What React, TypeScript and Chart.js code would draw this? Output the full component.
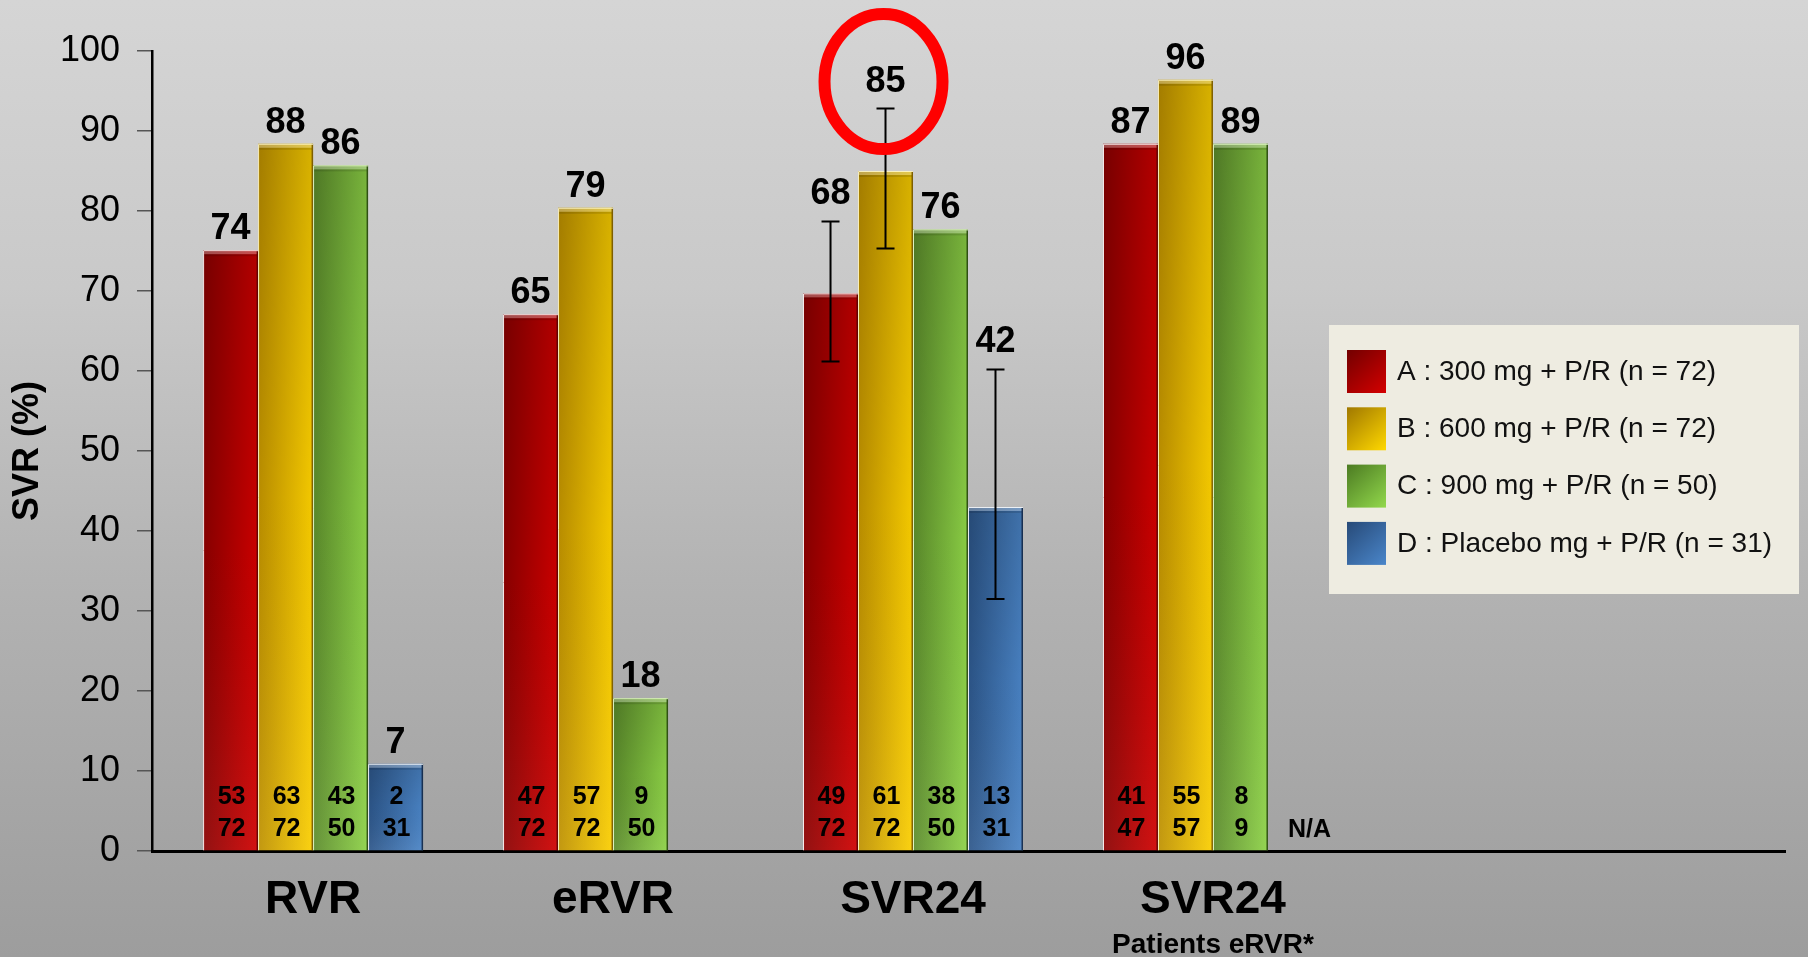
import React, { useEffect, useRef } from 'react';
import { Chart, registerables } from 'chart.js';

Chart.register(...registerables);

// ---------- DATA ----------
const categories = ['RVR', 'eRVR', 'SVR24', 'SVR24'];
const categorySubtitles = ['', '', '', 'Patients eRVR*'];
const seriesNames = [
  'A : 300 mg + P/R (n = 72)',
  'B : 600 mg + P/R (n = 72)',
  'C : 900 mg + P/R (n = 50)',
  'D : Placebo mg + P/R (n = 31)',
];

// bar heights as drawn on the slide (%)
const barsA: (number | null)[] = [75.1, 67.1, 69.7, 88.4];
const barsB: (number | null)[] = [88.4, 80.4, 85.0, 96.4];
const barsC: (number | null)[] = [85.7, 19.1, 77.7, 88.4];
const barsD: (number | null)[] = [10.9, null, 43.0, null];

// percentages printed above the bars
const printedA = [74, 65, 68, 87];
const printedB = [88, 79, 85, 96];
const printedC = [86, 18, 76, 89];
const printedD = [7, null, 42, null];

// responders / patients printed inside the bars
const respondersA = [53, 47, 49, 41];
const patientsA = [72, 72, 72, 47];
const respondersB = [63, 57, 61, 55];
const patientsB = [72, 72, 72, 57];
const respondersC = [43, 9, 38, 8];
const patientsC = [50, 50, 50, 9];
const respondersD = [2, null, 13, null];
const patientsD = [31, null, 31, null];
const notAvailableD = ['', '', '', 'N/A'];

// error bars [low, high] (%)
const errorsA = [null, null, [61.2, 78.7], null];
const errorsB = [null, null, [75.3, 92.8], null];
const errorsC = [null, null, null, null];
const errorsD = [null, null, [31.5, 60.2], null];

// highlighted value (red ring)
const highlight = { series: 1, index: 2 };

// ---------- STYLE ----------
const FONT = '"Liberation Sans", Arial, Helvetica, sans-serif';
const palette = [
  { dark: '#8a0000', light: '#d00000', sw0: '#720000', sw1: '#d40000', hi: 'rgba(255,255,255,0.92)', lo: 'rgba(70,0,0,0.75)' },
  { dark: '#bd9000', light: '#fbcf00', sw0: '#a07800', sw1: '#ffd800', hi: 'rgba(255,250,210,0.9)', lo: 'rgba(110,80,0,0.85)' },
  { dark: '#5b8b2b', light: '#8dd246', sw0: '#4c7b22', sw1: '#92d84c', hi: 'rgba(235,255,210,0.9)', lo: 'rgba(40,70,15,0.9)' },
  { dark: '#2c5588', light: '#4a84c6', sw0: '#274a78', sw1: '#4a86ca', hi: 'rgba(255,255,255,0.9)', lo: 'rgba(20,40,70,0.9)' },
];

const bars = [barsA, barsB, barsC, barsD];
const printed = [printedA, printedB, printedC, printedD];
const responders = [respondersA, respondersB, respondersC, respondersD];
const patients = [patientsA, patientsB, patientsC, patientsD];
const notAvailable = [['', '', '', ''], ['', '', '', ''], ['', '', '', ''], notAvailableD];
const errors: any[] = [errorsA, errorsB, errorsC, errorsD];

const barPaint = {
  id: 'barPaint',
  beforeDatasetsDraw(chart: any) {
    const ctx = chart.ctx;
    chart.data.datasets.forEach((_ds: any, i: number) => {
      const meta = chart.getDatasetMeta(i);
      meta.data.forEach((el: any) => {
        if (!isFinite(el.x) || !isFinite(el.width)) return;
        const g = ctx.createLinearGradient(el.x - el.width / 2, 0, el.x + el.width / 2, 0);
        g.addColorStop(0, palette[i].dark);
        g.addColorStop(1, palette[i].light);
        el.options = Object.assign({}, el.options, { backgroundColor: g });
      });
    });
  },
  afterDatasetsDraw(chart: any) {
    const ctx = chart.ctx;
    const yScale = chart.scales.y;
    const base = yScale.getPixelForValue(0);
    ctx.save();
    // shading, bevel and edges
    chart.data.datasets.forEach((_ds: any, i: number) => {
      const meta = chart.getDatasetMeta(i);
      meta.data.forEach((el: any, j: number) => {
        if (bars[i][j] == null) return;
        const left = el.x - el.width / 2;
        const right = el.x + el.width / 2;
        const top = el.y;
        const bottom = el.base;
        const vg = ctx.createLinearGradient(0, top, 0, bottom);
        vg.addColorStop(0, 'rgba(0,0,0,0.14)');
        vg.addColorStop(0.5, 'rgba(0,0,0,0.03)');
        vg.addColorStop(1, 'rgba(255,255,255,0.07)');
        ctx.fillStyle = vg;
        ctx.fillRect(left, top, el.width, bottom - top);
        ctx.fillStyle = 'rgba(255,255,255,0.3)';
        ctx.fillRect(left + 1, top + 1, el.width - 2, 3);
        ctx.fillStyle = 'rgba(0,0,0,0.12)';
        ctx.fillRect(left + 1, top + 4, el.width - 2, 2);
        ctx.lineWidth = 1.5;
        ctx.strokeStyle = palette[i].lo;
        ctx.beginPath();
        ctx.moveTo(right - 0.75, top);
        ctx.lineTo(right - 0.75, bottom);
        ctx.stroke();
        ctx.lineWidth = 1;
        ctx.strokeStyle = palette[i].hi;
        ctx.beginPath();
        ctx.moveTo(left + 0.5, bottom);
        ctx.lineTo(left + 0.5, top + 0.5);
        ctx.lineTo(right, top + 0.5);
        ctx.stroke();
      });
    });
    // error bars, labels
    ctx.textAlign = 'center';
    ctx.textBaseline = 'alphabetic';
    chart.data.datasets.forEach((_ds: any, i: number) => {
      const meta = chart.getDatasetMeta(i);
      meta.data.forEach((el: any, j: number) => {
        ctx.fillStyle = '#000';
        if (bars[i][j] == null) {
          if (notAvailable[i][j]) {
            ctx.font = `bold 25px ${FONT}`;
            ctx.fillText(notAvailable[i][j], el.x + 14, base - 14);
          }
          return;
        }
        let top = el.y;
        let gap = 11;
        const e = errors[i][j];
        if (e) {
          const yl = yScale.getPixelForValue(e[0]);
          const yh = yScale.getPixelForValue(e[1]);
          ctx.strokeStyle = '#000';
          ctx.lineWidth = 2;
          ctx.beginPath();
          ctx.moveTo(el.x, yl);
          ctx.lineTo(el.x, yh);
          ctx.moveTo(el.x - 9, yl);
          ctx.lineTo(el.x + 9, yl);
          ctx.moveTo(el.x - 9, yh);
          ctx.lineTo(el.x + 9, yh);
          ctx.stroke();
          top = Math.min(top, yh);
          gap = 17;
        }
        const labelY = top - gap;
        ctx.font = `bold 36px ${FONT}`;
        ctx.fillText(String(printed[i][j]), el.x, labelY);
        if (highlight.series === i && highlight.index === j) {
          ctx.strokeStyle = '#ff0000';
          ctx.lineWidth = 12;
          ctx.beginPath();
          ctx.ellipse(el.x - 2, labelY - 10, 59, 67.5, 0, 0, Math.PI * 2);
          ctx.stroke();
        }
        ctx.font = `bold 25px ${FONT}`;
        ctx.fillText(String(responders[i][j]), el.x + 1, base - 47);
        ctx.fillText(String(patients[i][j]), el.x + 1, base - 15);
      });
    });
    ctx.restore();
  },
};

const extras = {
  id: 'extras',
  afterDraw(chart: any) {
    const ctx = chart.ctx;
    const xScale = chart.scales.x;
    ctx.save();
    // category subtitles
    ctx.fillStyle = '#000';
    ctx.textAlign = 'center';
    ctx.textBaseline = 'alphabetic';
    ctx.font = `bold 28px ${FONT}`;
    categorySubtitles.forEach((s, j) => {
      if (!s) return;
      ctx.fillText(s, xScale.getPixelForValue(j), xScale.bottom - 4);
    });
    // legend box
    const lx = chart.width - 479;
    const ly = 325;
    ctx.fillStyle = '#eeece1';
    ctx.fillRect(lx, ly, 470, 269);
    ctx.textAlign = 'left';
    ctx.textBaseline = 'middle';
    ctx.font = `28px ${FONT}`;
    chart.data.datasets.forEach((ds: any, i: number) => {
      const sx = lx + 18;
      const sy = ly + 25 + i * 57.3;
      const g = ctx.createLinearGradient(sx, sy, sx + 39, sy + 43);
      g.addColorStop(0, palette[i].sw0);
      g.addColorStop(1, palette[i].sw1);
      ctx.fillStyle = g;
      ctx.fillRect(sx, sy, 39, 43);
      ctx.fillStyle = '#111';
      ctx.fillText(ds.label, sx + 50, sy + 22);
    });
    ctx.restore();
  },
};

export default function App() {
  const ref = useRef<HTMLCanvasElement | null>(null);
  useEffect(() => {
    if (!ref.current) return;
    const chart = new Chart(ref.current, {
      type: 'bar',
      data: {
        labels: categories.map((_c, i) => i),
        datasets: bars.map((b, i) => ({
          label: seriesNames[i],
          data: b,
          backgroundColor: palette[i].light,
          borderWidth: 0,
          categoryPercentage: 0.7333,
          barPercentage: 1,
        })),
      },
      options: {
        responsive: false,
        maintainAspectRatio: false,
        animation: false,
        devicePixelRatio: 1,
        events: [],
        layout: { padding: { left: 0, right: 23, top: 51, bottom: 0 } },
        plugins: { legend: { display: false }, tooltip: { enabled: false } },
        scales: {
          x: {
            type: 'linear',
            min: -0.537,
            max: 4.907,
            offset: false,
            grid: { display: false, offset: false, drawTicks: false },
            border: { display: true, color: '#000', width: 3 },
            ticks: {
              stepSize: 1,
              includeBounds: false,
              autoSkip: false,
              maxRotation: 0,
              padding: 22,
              color: '#000',
              font: { family: FONT, size: 46, weight: 'bold' },
              callback: (v: any) => {
                const n = Math.round(Number(v));
                return Math.abs(n - Number(v)) < 1e-6 && n >= 0 && n < categories.length ? categories[n] : '';
              },
            },
            afterFit: (scale: any) => {
              scale.height = 106;
            },
          },
          y: {
            min: 0,
            max: 100,
            grid: { drawOnChartArea: false, drawTicks: true, tickLength: 15, color: '#555', lineWidth: 1.5 },
            border: { display: true, color: '#000', width: 2.5 },
            ticks: {
              stepSize: 10,
              padding: 17,
              color: '#000',
              font: { family: FONT, size: 36 },
            },
            title: {
              display: true,
              text: 'SVR (%)',
              color: '#000',
              font: { family: FONT, size: 36, weight: 'bold' },
              padding: { top: 6, bottom: 0 },
            },
            afterFit: (scale: any) => {
              scale.width = 152;
            },
          },
        },
      } as any,
      plugins: [barPaint, extras],
    });
    return () => chart.destroy();
  }, []);
  return (
    <div
      style={{
        position: 'absolute',
        left: 0,
        top: 0,
        width: 1808,
        height: 957,
        background: 'linear-gradient(to bottom, #d5d5d5 0%, #c9c9c9 30%, #b2b2b2 62%, #9d9d9d 100%)',
      }}
    >
      <canvas ref={ref} width={1808} height={957} style={{ display: 'block' }} />
    </div>
  );
}
